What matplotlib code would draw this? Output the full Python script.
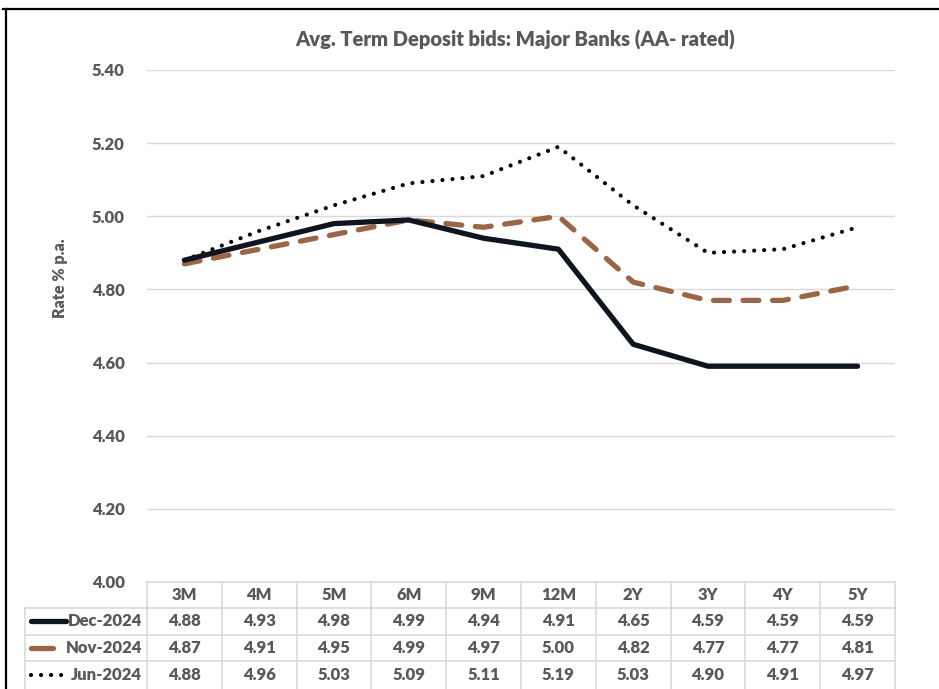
import matplotlib
matplotlib.use("Agg")
import matplotlib.pyplot as plt
from matplotlib.lines import Line2D

plt.rcParams['font.family'] = ['Lato', 'DejaVu Sans']

categories = ["3M", "4M", "5M", "6M", "9M", "12M", "2Y", "3Y", "4Y", "5Y"]
dec_2024 = [4.88, 4.93, 4.98, 4.99, 4.94, 4.91, 4.65, 4.59, 4.59, 4.59]
nov_2024 = [4.87, 4.91, 4.95, 4.99, 4.97, 5.00, 4.82, 4.77, 4.77, 4.81]
jun_2024 = [4.88, 4.96, 5.03, 5.09, 5.11, 5.19, 5.03, 4.90, 4.91, 4.97]
series_names = ["Dec-2024", "Nov-2024", "Jun-2024"]
yticks = [4.00, 4.20, 4.40, 4.60, 4.80, 5.00, 5.20, 5.40]

W, H = 939, 689
fig = plt.figure(figsize=(W / 100, H / 100), dpi=100)

def fx(px):
    return px / W

def fy(py):
    return 1 - py / H

FW = 'heavy'
TC = '#595959'
x0, x1 = 147, 895
ytop, ybot = 70, 582
ax = fig.add_axes([fx(x0), fy(ybot), fx(x1) - fx(x0), fy(ytop) - fy(ybot)])
ax.set_xlim(-0.5, len(categories) - 0.5)
ax.set_ylim(4.0, 5.4)
for s in ax.spines.values():
    s.set_visible(False)
ax.set_yticks(yticks)
ax.set_yticklabels([f"{v:.2f}" for v in yticks], fontsize=12, fontweight=FW, color=TC)
ax.tick_params(axis='y', length=0, pad=16)
ax.set_xticks([])
ax.grid(axis='y', color='#d9d9d9', linewidth=1)
ax.set_axisbelow(True)

xs = list(range(len(categories)))
dec_style = dict(color='#0e1420', linewidth=3.8, solid_capstyle='round', solid_joinstyle='round')
nov_style = dict(color='#9a6645', linewidth=3.8, dashes=(3.0, 2.6), dash_capstyle='round')
jun_style = dict(color='#000000', linewidth=3.0, dashes=(0.01, 2.4), dash_capstyle='round')
ax.plot(xs, jun_2024, **jun_style, zorder=3)
ax.plot(xs, nov_2024, **nov_style, zorder=2)
ax.plot(xs, dec_2024, **dec_style, zorder=4)

fig.text(fx(60), fy(278), "Rate % p.a.", rotation=90, ha='center', va='center',
         fontsize=11.5, fontweight=FW, color=TC)

fig.text(fx(515), fy(40), "Avg. Term Deposit bids: Major Banks (AA- rated)", ha='center', va='center',
         fontsize=14.5, fontweight=FW, color=TC)

# table
gc = '#d9d9d9'
row_y = [582, 608, 635, 661, 689]
colw = (x1 - x0) / len(categories)
fig.add_artist(Line2D([fx(x0), fx(x1)], [fy(582), fy(582)], color=gc, lw=1.2))
for yy in row_y[1:4]:
    fig.add_artist(Line2D([fx(25), fx(x1)], [fy(yy), fy(yy)], color=gc, lw=1.2))
for i in range(len(categories) + 1):
    xx = x0 + i * colw
    fig.add_artist(Line2D([fx(xx), fx(xx)], [fy(582), fy(689)], color=gc, lw=1.2))
fig.add_artist(Line2D([fx(25), fx(25)], [fy(608), fy(689)], color=gc, lw=1.2))

tstyle = dict(fontsize=12, fontweight=FW, color=TC, ha='center', va='center')
for i, c in enumerate(categories):
    fig.text(fx(x0 + (i + 0.5) * colw), fy((582 + 608) / 2), c, **tstyle)
all_series = [dec_2024, nov_2024, jun_2024]
for r, vals in enumerate(all_series):
    yc = (row_y[r + 1] + row_y[r + 2]) / 2
    for i, v in enumerate(vals):
        fig.text(fx(x0 + (i + 0.5) * colw), fy(yc), f"{v:.2f}", **tstyle)
    fig.text(fx(142), fy(yc), series_names[r], fontsize=12, fontweight=FW, color=TC, ha='right', va='center')

# legend keys
fig.add_artist(Line2D([fx(31), fx(66)], [fy(621), fy(621)], **dec_style))
fig.add_artist(Line2D([fx(31), fx(53)], [fy(648), fy(648)], color='#9a6645', linewidth=3.8, solid_capstyle='round'))
fig.add_artist(Line2D([fx(31), fx(67)], [fy(675), fy(675)], **jun_style))

# frame
fig.add_artist(Line2D([fx(3), fx(939)], [fy(9), fy(9)], color='black', lw=1.6))
fig.add_artist(Line2D([fx(6), fx(6)], [fy(9), fy(689)], color='black', lw=1.6))

fig.savefig("out.png", dpi=100)
